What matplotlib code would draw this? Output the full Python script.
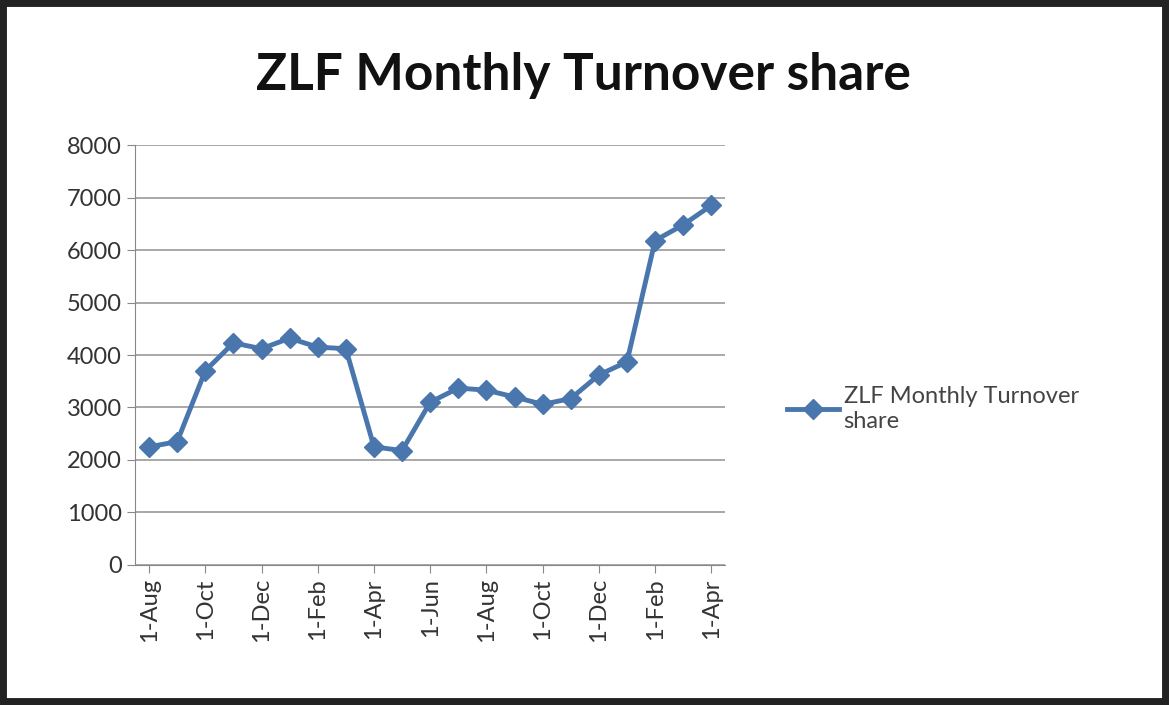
import matplotlib
matplotlib.use("Agg")
import matplotlib.pyplot as plt
from matplotlib.lines import Line2D
from matplotlib.patches import Rectangle

plt.rcParams["font.family"] = ["Lato", "DejaVu Sans"]

months = ["1-Aug", "1-Sep", "1-Oct", "1-Nov", "1-Dec", "1-Jan", "1-Feb", "1-Mar",
          "1-Apr", "1-May", "1-Jun", "1-Jul", "1-Aug", "1-Sep", "1-Oct", "1-Nov",
          "1-Dec", "1-Jan", "1-Feb", "1-Mar", "1-Apr"]
turnover = [2250, 2350, 3700, 4230, 4120, 4320, 4150, 4120, 2250, 2180, 3100,
            3370, 3330, 3200, 3060, 3170, 3620, 3870, 6180, 6480, 6850]
series_name = "ZLF Monthly Turnover share"
color = "#4a76ae"
txt = "#333333"

fig = plt.figure(figsize=(11.69, 7.05), dpi=100)
fig.patch.set_facecolor("white")
fig.add_artist(Rectangle((0, 0), 1, 1, transform=fig.transFigure, fill=False,
                         edgecolor="#222222", lw=10))
ax = fig.add_axes([0.1155, 0.1986, 0.505, 0.5957])

x = list(range(len(turnover)))
ax.plot(x, turnover, color=color, lw=3.5, marker="D", ms=10, label=series_name)
ax.set_xlim(-0.5, len(x) - 0.5)
ax.set_ylim(0, 8000)
ax.set_yticks(range(0, 8001, 1000))
ax.set_xticks(x[::2])
ax.set_xticklabels(months[::2], rotation=90, fontsize=17, color=txt)
ax.tick_params(axis="y", labelsize=17, labelcolor=txt, length=6, color="#888888")
ax.tick_params(axis="x", length=6, color="#888888")
ax.grid(axis="y", color="#999999", lw=1.2)
ax.set_axisbelow(True)
for s in ["top", "right"]:
    ax.spines[s].set_visible(False)
ax.spines["left"].set_color("#888888")
ax.spines["bottom"].set_color("#888888")

fig.text(0.499, 0.893, "ZLF Monthly Turnover share", ha="center", va="center",
         fontsize=37, fontweight="bold", color="#111111")

h = [Line2D([], [], color=color, lw=3.5, marker="D", ms=10)]
fig.legend(h, ["ZLF Monthly Turnover\nshare"], loc="center left",
           bbox_to_anchor=(0.655, 0.42), frameon=False, fontsize=17,
           labelcolor="#444444", handlelength=2.2, handletextpad=0.2,
           labelspacing=0.3)
plt.rcParams["legend.labelspacing"] = 0.3

fig.savefig("out.png", dpi=100)
